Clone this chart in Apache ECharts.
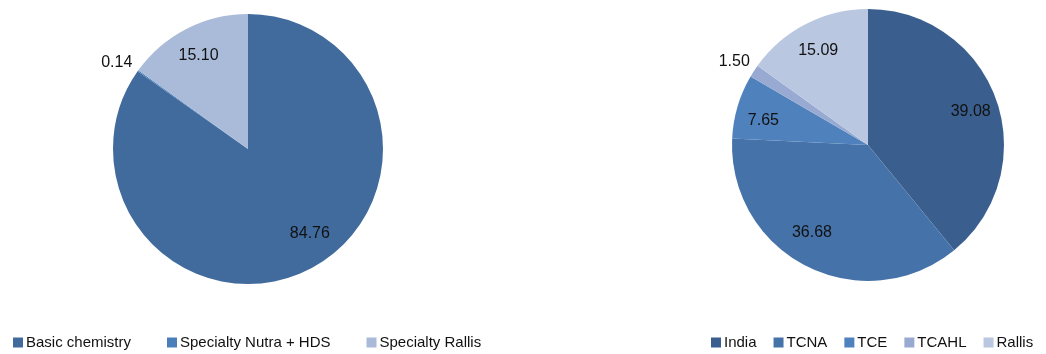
<!DOCTYPE html>
<html>
<head>
<meta charset="utf-8">
<script src="https://cdn.jsdelivr.net/npm/echarts@6/dist/echarts.min.js"></script>
<style>
html,body{margin:0;padding:0;background:#fff;}
#chart{width:1046px;height:354px;}
</style>
</head>
<body>
<div id="chart"></div>
<script>
// ---- data ----
const leftCategories = ['Basic chemistry', 'Specialty Nutra + HDS', 'Specialty Rallis'];
const leftValues = [84.76, 0.14, 15.10];
const leftColors = ['#416B9D', '#4A7EBB', '#AABBD9'];

const rightCategories = ['India', 'TCNA', 'TCE', 'TCAHL', 'Rallis'];
const rightValues = [39.08, 36.68, 7.65, 1.50, 15.09];
const rightColors = ['#3A5F8E', '#4572A8', '#4F81BD', '#98AAD2', '#B9C7E1'];

const SMALL = 5; // slices below this share get an outside label

const FONT = '"Liberation Sans", Arial, sans-serif';
const labelFont = { fontFamily: FONT, fontSize: 16, color: '#111' };

// small best-fit nudges of the labels (style only); default shift is [0, 3]
const leftNudge = { 0: [12, -12], 1: [0, 7] };
const rightNudge = { 1: [-7, -10], 2: [0, 7] };

function mainSeries(cats, vals, colors, center, r) {
  return {
    type: 'pie', center: center, radius: [0, r], startAngle: 90, clockwise: true,
    avoidLabelOverlap: false, silent: true, z: 2,
    label: { show: false }, labelLine: { show: false },
    itemStyle: { borderWidth: 0 },
    emphasis: { disabled: true },
    data: cats.map((c, i) => ({ name: c, value: vals[i], itemStyle: { color: colors[i] } }))
  };
}
function labelSeries(vals, center, r0, r1, small, nudge) {
  return {
    type: 'pie', center: center, radius: [r0, r1], startAngle: 90, clockwise: true,
    avoidLabelOverlap: false, silent: true, z: 3, minShowLabelAngle: 0,
    itemStyle: { color: 'rgba(0,0,0,0)', borderWidth: 0 },
    labelLine: { show: false },
    emphasis: { disabled: true },
    label: Object.assign({ position: 'inside', formatter: p => p.value.toFixed(2) }, labelFont),
    labelLayout: function (p) {
      const n = (nudge && nudge[p.dataIndex]) || [0, 3];
      return { dx: n[0], dy: n[1] };
    },
    data: vals.map(v => ({ value: v, label: { show: small ? v < SMALL : v >= SMALL } }))
  };
}

const LC = [248, 149], LR = 135;
const RC = [868, 145], RR = 136;

const legendText = { fontFamily: FONT, fontSize: 15, color: '#111', padding: [0, 0, 0, -2] };

const option = {
  backgroundColor: '#fff',
  animation: false,
  legend: [
    {
      data: leftCategories, left: 8, top: 330, width: 500, icon: 'rect', itemWidth: 10, itemHeight: 10, itemGap: 36,
      textStyle: legendText, selectedMode: false
    },
    {
      data: rightCategories, left: 706, top: 330, width: 340, icon: 'rect', itemWidth: 10, itemHeight: 10, itemGap: 17,
      textStyle: legendText, selectedMode: false
    }
  ],
  series: [
    mainSeries(leftCategories, leftValues, leftColors, LC, LR),
    mainSeries(rightCategories, rightValues, rightColors, RC, RR),
    labelSeries(leftValues, LC, LR * 0.56, LR, false, leftNudge),
    labelSeries(leftValues, LC, LR * 1.10, LR * 1.24, true, leftNudge),
    labelSeries(rightValues, RC, RR * 0.56, RR, false, rightNudge),
    labelSeries(rightValues, RC, RR * 1.08, RR * 1.22, true, rightNudge)
  ]
};

const chart = echarts.init(document.getElementById('chart'), null, { renderer: 'canvas' });
chart.setOption(option);
</script>
</body>
</html>
